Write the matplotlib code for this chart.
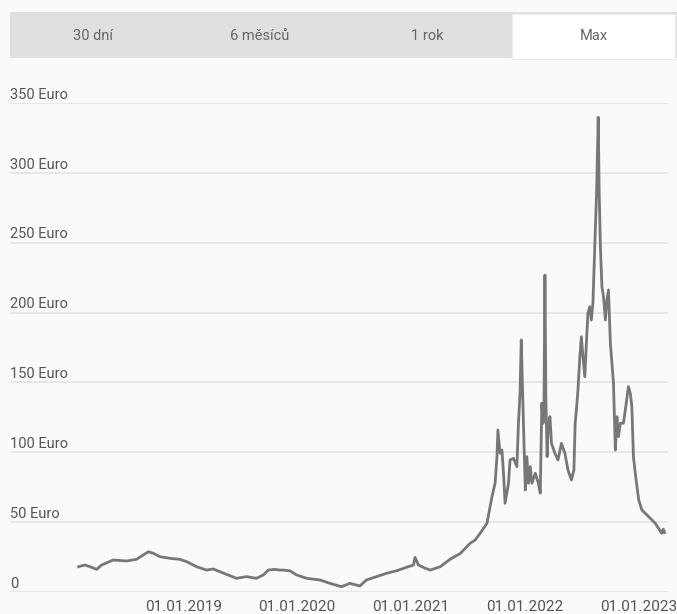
import pandas as pd
import matplotlib
matplotlib.use("Agg")
import matplotlib.pyplot as plt
import matplotlib.dates as mdates
from matplotlib.patches import Rectangle

plt.rcParams["font.family"] = ["Roboto", "DejaVu Sans"]

# price series (EUR)
dates = [
    "2018-01-30", "2018-02-19", "2018-03-08", "2018-03-29", "2018-04-14", "2018-05-21",
    "2018-07-03", "2018-08-04", "2018-09-11", "2018-09-27", "2018-10-18", "2018-11-19",
    "2018-12-21", "2019-01-12", "2019-02-13", "2019-03-17", "2019-04-07", "2019-04-29",
    "2019-06-21", "2019-07-23", "2019-08-24", "2019-09-15", "2019-10-01", "2019-10-22",
    "2019-11-07", "2019-11-18", "2019-12-09", "2019-12-31", "2020-02-01", "2020-03-15",
    "2020-04-16", "2020-05-23", "2020-06-19", "2020-07-21", "2020-08-11", "2020-09-13",
    "2020-10-15", "2020-11-16", "2020-12-18", "2021-01-09", "2021-01-14", "2021-01-25",
    "2021-02-16", "2021-03-04", "2021-04-05", "2021-05-07", "2021-06-08", "2021-07-10",
    "2021-07-26", "2021-08-11", "2021-09-02", "2021-09-18", "2021-09-28", "2021-10-04",
    "2021-10-07", "2021-10-14", "2021-10-20", "2021-10-25", "2021-10-30", "2021-11-10",
    "2021-11-15", "2021-11-26", "2021-12-07", "2021-12-12", "2021-12-17", "2021-12-21",
    "2021-12-28", "2022-01-03", "2022-01-08", "2022-01-13", "2022-01-19", "2022-01-24",
    "2022-02-04", "2022-02-14", "2022-02-20", "2022-02-25", "2022-03-01", "2022-03-04",
    "2022-03-07", "2022-03-10", "2022-03-14", "2022-03-17", "2022-03-23", "2022-03-28",
    "2022-04-08", "2022-04-18", "2022-04-29", "2022-05-10", "2022-05-20", "2022-05-31",
    "2022-06-08", "2022-06-12", "2022-06-16", "2022-06-21", "2022-06-27", "2022-07-02",
    "2022-07-07", "2022-07-13", "2022-07-18", "2022-07-23", "2022-07-29", "2022-08-03",
    "2022-08-08", "2022-08-14", "2022-08-20", "2022-08-25", "2022-08-28", "2022-09-01",
    "2022-09-06", "2022-09-11", "2022-09-17", "2022-09-22", "2022-09-27", "2022-10-03",
    "2022-10-08", "2022-10-13", "2022-10-19", "2022-10-24", "2022-10-29", "2022-11-04",
    "2022-11-14", "2022-11-20", "2022-11-30", "2022-12-06", "2022-12-11", "2022-12-16",
    "2022-12-22", "2023-01-02", "2023-01-12", "2023-02-03", "2023-02-24", "2023-03-17",
    "2023-03-22", "2023-03-26",
]
prices = [
    18.1, 19.3, 18.1, 16.2, 19.3, 22.9,
    22.2, 23.4, 28.8, 27.7, 25.3, 24.1,
    23.4, 21.7, 18.1, 15.7, 16.5, 14.5,
    9.8, 11.0, 9.8, 12.2, 15.7, 16.2,
    15.7, 15.7, 15.2, 12.2, 9.8, 8.6,
    6.2, 3.8, 6.2, 4.3, 8.6, 11.0,
    13.4, 15.2, 17.7, 19.3, 24.8, 19.3,
    17.0, 15.7, 18.1, 23.5, 27.5, 34.9,
    37.2, 42.0, 49.2, 68.2, 77.8, 96.9,
    116.0, 99.3, 101.6, 85.0, 63.5, 77.8,
    94.5, 95.7, 89.7, 120.8, 142.2, 180.4,
    120.8, 73.0, 96.9, 77.8, 89.7, 77.8,
    85.0, 77.8, 70.7, 135.1, 120.8, 135.1,
    226.9, 138.9, 96.9, 116.0, 125.5, 106.4,
    99.3, 94.5, 106.4, 99.3, 87.3, 80.2,
    87.3, 120.8, 130.3, 144.6, 168.4, 182.7,
    168.4, 154.1, 178.0, 199.5, 204.2, 194.7,
    206.6, 247.2, 287.8, 339.8, 287.8, 247.2,
    218.5, 211.4, 194.7, 209.0, 216.2, 178.0,
    163.7, 149.4, 101.6, 125.5, 111.2, 120.8,
    120.8, 130.3, 147.0, 142.2, 132.6, 96.9,
    85.0, 65.9, 58.7, 53.9, 49.2, 42.0,
    45.0, 42.5,
]
y_ticks = [0, 50, 100, 150, 200, 250, 300, 350]
x_ticks = ["2019-01-01", "2020-01-01", "2021-01-01", "2022-01-01", "2023-01-01"]
tabs = ["30 dní", "6 měsíců", "1 rok", "Max"]
active_tab = 3

bg = "#fafafa"
fig = plt.figure(figsize=(6.77, 6.14), dpi=100, facecolor=bg)
W, H = 677, 614

# tab bar
bar_x0, bar_y0, bar_y1 = 10, 12, 58
tab_w = (W - bar_x0) / len(tabs)
fig.patches.append(Rectangle((bar_x0 / W, 1 - bar_y1 / H), (W - bar_x0) / W, (bar_y1 - bar_y0) / H,
                             transform=fig.transFigure, facecolor="#e0e0e0", edgecolor="none"))
for i, t in enumerate(tabs):
    cx = bar_x0 + tab_w * (i + 0.5)
    if i == active_tab:
        fig.patches.append(Rectangle(((bar_x0 + tab_w * i + 2) / W, 1 - (bar_y1 + 1) / H),
                                     (tab_w - 4) / W, (bar_y1 - bar_y0 - 1) / H,
                                     transform=fig.transFigure, facecolor="white",
                                     edgecolor="#ececec", lw=0.8))
    fig.text(cx / W, 1 - 36 / H, t, ha="center", va="center", fontsize=10.5, color="#666666")

# chart area
ax = fig.add_axes([10 / W, 1 - 592 / H, (668 - 10) / W, (592 - 103) / H])
ax.set_facecolor(bg)
x = pd.to_datetime(dates)
ax.plot(x, prices, color="#777777", lw=2.0, solid_joinstyle="round")

ax.set_ylim(0, 350)
ax.set_xlim(pd.Timestamp("2017-06-24"), pd.Timestamp("2023-04-06"))
ax.set_yticks(y_ticks)
ax.yaxis.grid(True, color="#e4e4e4", lw=1.2)
ax.set_axisbelow(True)
ax.tick_params(axis="y", left=False, labelleft=False)
for v in y_ticks:
    ax.annotate("0" if v == 0 else f"{v} Euro", xy=(0, v), xycoords=("axes fraction", "data"),
                xytext=(0, 6), textcoords="offset points", ha="left", va="center",
                fontsize=10.5, color="#555555")

ax.set_xticks(pd.to_datetime(x_ticks))
ax.xaxis.set_major_formatter(mdates.DateFormatter("%d.%m.%Y"))
ax.tick_params(axis="x", bottom=False, pad=2, labelsize=11, labelcolor="#555555")
for s in ax.spines.values():
    s.set_visible(False)

fig.savefig("out.png", dpi=100, facecolor=bg)
